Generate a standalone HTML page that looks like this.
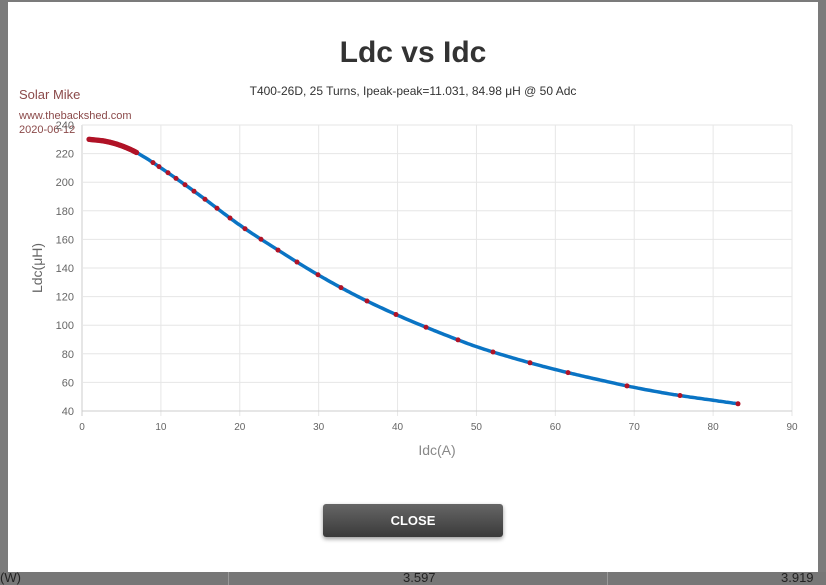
<!DOCTYPE html>
<html><head><meta charset="utf-8"><style>
body{margin:0;width:826px;height:585px;background:#7b7b7b;position:relative;overflow:hidden;font-family:"Liberation Sans",sans-serif}
.modal{position:absolute;left:8px;top:2px;width:810px;height:570px;background:#fff}
.bot{position:absolute;top:572px;left:0;width:826px;height:13px;background:#777;font-size:13px;color:#222}
.btn{position:absolute;left:323px;top:504px;width:180px;height:33px;background:linear-gradient(#666,#3a3a3a);border-radius:3px;color:#fff;font-weight:bold;font-size:13px;text-align:center;line-height:33px;box-shadow:0 2px 4px rgba(0,0,0,.4)}
</style></head><body>
<div class="bot"><span style="position:absolute;left:0;top:-2px">(W)</span><span style="position:absolute;left:403px;top:-2px">3.597</span><span style="position:absolute;left:781px;top:-2px">3.919</span><div style="position:absolute;left:228px;top:0;width:1px;height:13px;background:#999"></div><div style="position:absolute;left:607px;top:0;width:1px;height:13px;background:#999"></div></div>
<div class="modal"></div>
<svg width="826" height="585" style="position:absolute;left:0;top:0" id="s" font-family="Liberation Sans, sans-serif">
<text x="413" y="62" text-anchor="middle" font-size="30" font-weight="bold" fill="#333">Ldc vs Idc</text>
<text x="413" y="95" text-anchor="middle" font-size="12" fill="#333">T400-26D, 25 Turns, Ipeak-peak=11.031, 84.98 μH @ 50 Adc</text>
<text x="19" y="99" font-size="13" fill="#8b4a4a">Solar Mike</text>
<text x="19" y="119" font-size="11" fill="#8b4a4a">www.thebackshed.com</text>
<text x="19" y="133" font-size="11" fill="#8b4a4a">2020-06-12</text>
<g id="g"></g>
<text x="437" y="455" text-anchor="middle" font-size="14" fill="#888">Idc(A)</text>
<text transform="translate(42,268) rotate(-90)" text-anchor="middle" font-size="14" fill="#666">Ldc(μH)</text>
</svg>
<div class="btn">CLOSE</div>
<script>
var g=document.getElementById('g'),h='';
function X(v){return 82+v*7.889}function Y(v){return 411-(v-40)*1.43}
for(var i=0;i<=9;i++){h+='<line x1="'+X(i*10)+'" x2="'+X(i*10)+'" y1="125" y2="416" stroke="'+(i==0?'#ccc':'#e6e6e6')+'"/>';h+='<text x="'+X(i*10)+'" y="430" text-anchor="middle" font-size="10" fill="#666">'+i*10+'</text>';}
for(var v=40;v<=240;v+=20){h+='<line x1="82" x2="792" y1="'+Y(v)+'" y2="'+Y(v)+'" stroke="'+(v==40?'#ccc':'#e6e6e6')+'"/>';h+='<text x="74" y="'+(Y(v)+4)+'" text-anchor="end" font-size="11" fill="#666">'+v+'</text>';}
var d=[[0.9,230],[3,228.6],[5,225.5],[7,220.5],[10,210],[15,190.5],[20,170],[25,152],[30,135],[35,120],[40,107],[45,95.5],[50,85],[55,76.5],[60,69],[65,62.5],[70,56.5],[75,51.5],[80,47.5],[83.2,45]];
function f(x){for(var i=0;i<d.length-1;i++){if(x<=d[i+1][0]){var p0=d[Math.max(i-1,0)],p1=d[i],p2=d[i+1],p3=d[Math.min(i+2,d.length-1)];var t=(x-p1[0])/(p2[0]-p1[0]);var m1=(p2[1]-p0[1])/(p2[0]-p0[0])*(p2[0]-p1[0]),m2=(p3[1]-p1[1])/(p3[0]-p1[0])*(p2[0]-p1[0]);var t2=t*t,t3=t2*t;return (2*t3-3*t2+1)*p1[1]+(t3-2*t2+t)*m1+(-2*t3+3*t2)*p2[1]+(t3-t2)*m2;}}return d[d.length-1][1];}
var pts=[];for(var x=0.9;x<=83.2;x+=0.3)pts.push(X(x).toFixed(1)+','+Y(f(x)).toFixed(1));
h+='<polyline points="'+pts.join(' ')+'" fill="none" stroke="#0a74c4" stroke-width="3.5"/>';
for(var x=0.9;x<7;x+=0.15)h+='<circle cx="'+X(x)+'" cy="'+Y(f(x))+'" r="2.7" fill="#b01327"/>';
var px=[153,159,168,176,185,194,205,217,230,245,261,278,297,318,341,367,396,426,458,493,530,568,627,680,738];
px.forEach(function(p){var x=(p-82)/7.889;h+='<circle cx="'+p+'" cy="'+Y(f(x))+'" r="2.5" fill="#b01327"/>';});
g.innerHTML=h;
</script>
</body></html>
